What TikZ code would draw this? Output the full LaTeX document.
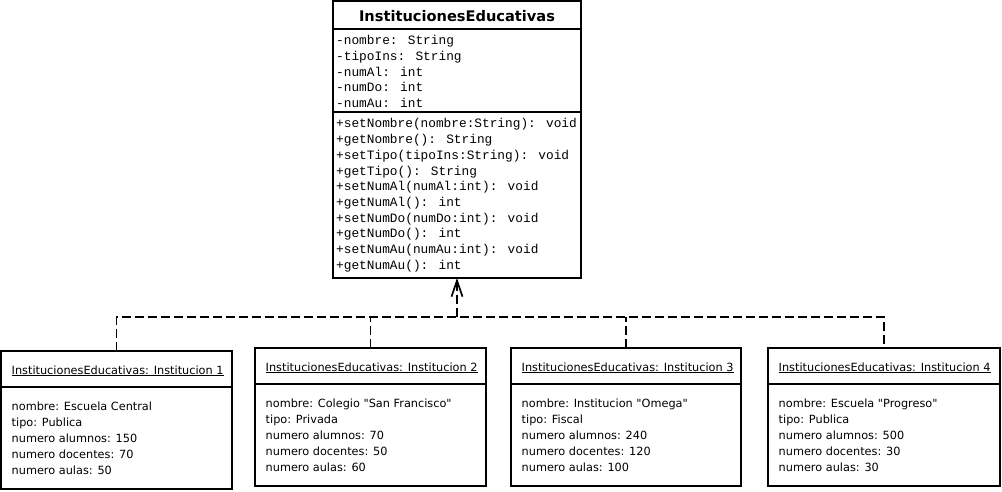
\documentclass[tikz,border=0pt]{standalone}
\usepackage{fontspec}
\setmainfont{DejaVu Sans}[Ligatures=TeXOff]
\newfontfamily\umlmono{Liberation Mono}
\usetikzlibrary{arrows.meta,calc}
\newcommand\objbox[9]{%
  \node[frame,minimum width=#4pt,minimum height=138pt] (#1) at (#2,#3) {};
  \draw[line width=1.7pt] ($(#1.north west)+(0,36)$) -- ($(#1.north east)+(0,36)$);
  \node[body] (#1t) at ($(#1.north west)+(10.5,23)$) {\underline{#5}};
  \node[body] (#1a) at ($(#1.north west)+(10.5,59)$) {#6};
  \node[body] (#1b) at ($(#1.north west)+(10.5,75)$) {#7};
  \node[body] (#1c) at ($(#1.north west)+(10.5,91)$) {#8};
  \node[body] (#1d) at ($(#1.north west)+(10.5,107)$) {#9};
}
\newcommand\objlast[3]{%
  \node[body] (#1e) at ($(#1.north west)+(10.5,123)$) {#3};
}
\begin{document}
\begin{tikzpicture}[x=1pt,y=-1pt,
  frame/.style={draw=black,line width=1.7pt,rectangle,inner sep=0pt,outer sep=0pt,anchor=north west},
  mono/.style={font=\umlmono\fontsize{12.8}{14}\selectfont,anchor=base west,inner sep=0pt},
  body/.style={font=\fontsize{11.3}{13}\selectfont,anchor=base west,inner sep=0pt},
  dep/.style={line width=1.7pt,dash pattern=on 9pt off 4pt}]
\useasboundingbox (0,0) rectangle (1002,492);

% class box
\node[frame,minimum width=248pt,minimum height=277pt] (cls) at (333,1) {};
\node[font=\bfseries\fontsize{14.6}{16}\selectfont,anchor=base,inner sep=0pt] (clsT) at (457,21.5) {InstitucionesEducativas};
\draw[line width=1.7pt] ($(cls.north west)+(0,28)$) -- ($(cls.north east)+(0,28)$);
\draw[line width=1.7pt] ($(cls.north west)+(0,111)$) -- ($(cls.north east)+(0,111)$);
\foreach \t [count=\i] in {-nombre: String,-tipoIns: String,-numAl: int,-numDo: int,-numAu: int}
  \node[mono] (attr\i) at (336,{45+15.6*(\i-1)}) {\t};
\foreach \t [count=\i] in {+setNombre(nombre:String): void,+getNombre(): String,+setTipo(tipoIns:String): void,+getTipo(): String,+setNumAl(numAl:int): void,+getNumAl(): int,+setNumDo(numDo:int): void,+getNumDo(): int,+setNumAu(numAu:int): void,+getNumAu(): int}
  \node[mono] (meth\i) at (336,{128+15.67*(\i-1)}) {\t};

% object boxes
\objbox{bA}{1}{351}{231}{InstitucionesEducativas: Institucion 1}{nombre: Escuela Central}{tipo: Publica}{numero alumnos: 150}{numero docentes: 70}
\objlast{bA}{}{numero aulas: 50}
\objbox{bB}{255}{348}{231}{InstitucionesEducativas: Institucion 2}{nombre: Colegio "San Francisco"}{tipo: Privada}{numero alumnos: 70}{numero docentes: 50}
\objlast{bB}{}{numero aulas: 60}
\objbox{bC}{511}{348}{230}{InstitucionesEducativas: Institucion 3}{nombre: Institucion "Omega"}{tipo: Fiscal}{numero alumnos: 240}{numero docentes: 120}
\objlast{bC}{}{numero aulas: 100}
\objbox{bD}{768}{348}{232}{InstitucionesEducativas: Institucion 4}{nombre: Escuela "Progreso"}{tipo: Publica}{numero alumnos: 500}{numero docentes: 30}
\objlast{bD}{}{numero aulas: 30}

% connectors
\coordinate (j) at (457,317);
\draw[dep] (bA.north) |- (j) -| (bD.north);
\draw[dep] (bB.north) -- (bB.north |- j);
\draw[dep] (bC.north) -- (bC.north |- j);
\draw[dep,-{Straight Barb[length=16pt,width=11pt]}] (j) -- (cls.south);
\end{tikzpicture}
\end{document}
